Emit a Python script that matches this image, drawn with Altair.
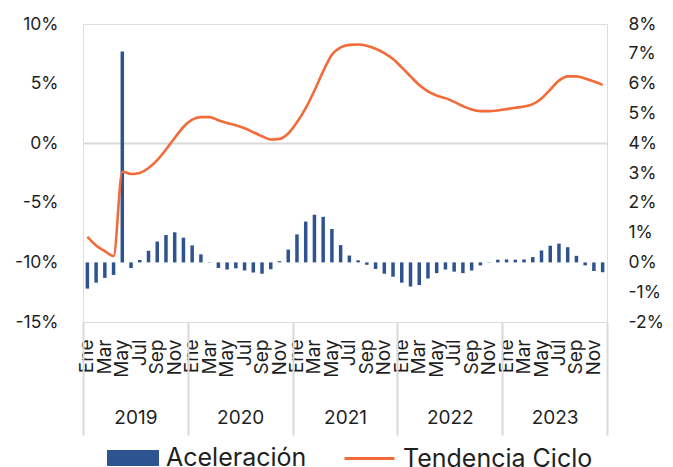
import altair as alt
import pandas as pd

# ---- data (values in %) ----
years = ["2019", "2020", "2021", "2022", "2023"]
month_names = ["Ene", "Feb", "Mar", "Abr", "May", "Jun", "Jul", "Ago", "Sep", "Oct", "Nov", "Dic"]

aceleracion = [
    -0.88, -0.68, -0.52, -0.42, 7.08, -0.19, 0.08, 0.39, 0.70, 0.92, 1.01, 0.83,
    0.57, 0.27, 0.01, -0.19, -0.24, -0.20, -0.27, -0.34, -0.38, -0.23, 0.04, 0.43,
    0.94, 1.37, 1.60, 1.53, 1.12, 0.58, 0.23, 0.07, -0.08, -0.22, -0.38, -0.48,
    -0.68, -0.81, -0.76, -0.54, -0.36, -0.24, -0.31, -0.36, -0.27, -0.10, 0.01, 0.09,
    0.10, 0.09, 0.10, 0.18, 0.40, 0.56, 0.63, 0.51, 0.22, -0.10, -0.29, -0.33,
]
tendencia = [
    -7.86, -8.58, -9.06, -9.47, -2.39, -2.58, -2.50, -2.08, -1.42, -0.53, 0.44, 1.36,
    1.97, 2.19, 2.19, 1.92, 1.69, 1.50, 1.25, 0.92, 0.58, 0.31, 0.36, 0.81,
    1.75, 2.94, 4.42, 6.03, 7.42, 8.03, 8.25, 8.28, 8.17, 7.92, 7.56, 7.06,
    6.36, 5.61, 4.88, 4.35, 4.00, 3.78, 3.47, 3.11, 2.83, 2.69, 2.69, 2.75,
    2.86, 2.97, 3.08, 3.28, 3.75, 4.50, 5.25, 5.61, 5.61, 5.42, 5.17, 4.89,
]
left_ticks = [-15, -10, -5, 0, 5, 10]
right_ticks = [-2, -1, 0, 1, 2, 3, 4, 5, 6, 7, 8]

keys = [f"{y}-{m:02d}" for y in years for m in range(1, 13)]
df = pd.DataFrame({
    "mes": keys,
    "acel": [v / 100 for v in aceleracion],
    "tend": [v / 100 for v in tendencia],
    "s1": "Aceleración",
    "s2": "Tendencia Ciclo",
})
years_df = pd.DataFrame({"anio": years})

FONT = "Inter"
TXT = "#1f1f1f"
BLUE = "#2E5391"
ORANGE = "#F26B38"
GRID = "#d9d9d9"

label_values = keys[::2]
names_js = "[" + ",".join(f"'{n}'" for n in month_names) + "]"
month_label_expr = f"{names_js}[toNumber(slice(datum.value, 5)) - 1]"
pct_expr = "replace(format(datum.value, '.0%'), '\u2212', '-')"

x_scale = alt.Scale(paddingInner=0, paddingOuter=0)
month_axis = alt.Axis(orient="bottom", values=label_values, labelExpr=month_label_expr,
                      labelAngle=-90, labelFontSize=19, labelFont=FONT, labelColor=TXT,
                      labelPadding=17, ticks=False, domain=False, labelOverlap=False,
                      labelBound=False, labelFlush=False, grid=False)

bars = alt.Chart(df).mark_bar(size=3.5).encode(
    x=alt.X("mes:O", scale=x_scale, title=None, axis=month_axis),
    y=alt.Y("acel:Q", title=None,
            scale=alt.Scale(domain=[-0.02, 0.08], nice=False, zero=False),
            axis=alt.Axis(orient="right", values=[v / 100 for v in right_ticks], labelExpr=pct_expr,
                          labelFontSize=17.5, labelFont=FONT, labelColor=TXT, labelAlign="left",
                          labelPadding=21, ticks=False, domain=False, grid=False)),
    color=alt.Color("s1:N", scale=alt.Scale(domain=["Aceleración"], range=[BLUE]),
                    legend=alt.Legend(orient="none", legendX=24, legendY=408, title=None,
                                      symbolType="M-1,-0.3077H1V0.3077H-1Z", symbolSize=2704,
                                      symbolStrokeWidth=0, symbolOpacity=1,
                                      labelFontSize=25, labelFont=FONT, labelColor=TXT,
                                      labelOffset=7, labelLimit=400)),
)

line = alt.Chart(df).mark_line(strokeWidth=2.6, interpolate="monotone").encode(
    x=alt.X("mes:O", scale=x_scale, title=None, axis=month_axis),
    y=alt.Y("tend:Q", title=None,
            scale=alt.Scale(domain=[-0.15, 0.10], nice=False, zero=False),
            axis=alt.Axis(orient="left", values=[v / 100 for v in left_ticks], labelExpr=pct_expr,
                          labelFontSize=17.5, labelFont=FONT, labelColor=TXT,
                          labelPadding=25, ticks=False, domain=False, grid=True,
                          gridColor=GRID, gridWidth=2,
                          gridOpacity=alt.condition("datum.value === 0", alt.value(1), alt.value(0)))),
    stroke=alt.Stroke("s2:N", scale=alt.Scale(domain=["Tendencia Ciclo"], range=[ORANGE]),
                      legend=alt.Legend(orient="none", legendX=260, legendY=408, title=None,
                                        symbolType="stroke", symbolSize=2500,
                                        symbolStrokeWidth=3, labelFontSize=25, labelFont=FONT,
                                        labelColor=TXT, labelOffset=7, labelLimit=400)),
)

inner = alt.layer(bars, line).resolve_scale(y="independent", color="independent", stroke="independent")

year_layer = alt.Chart(years_df).mark_point(opacity=0).encode(
    x=alt.X("anio:O", scale=alt.Scale(paddingInner=0, paddingOuter=0), title=None,
            axis=alt.Axis(orient="bottom", tickBand="extent", ticks=True, tickSize=113,
                          tickColor=GRID, tickWidth=2, domain=False, labelAngle=0,
                          labelFontSize=19, labelFont=FONT, labelColor=TXT,
                          labelBaseline="middle", labelPadding=-18)),
)

chart = alt.layer(inner, year_layer).resolve_scale(x="independent", y="independent").properties(
    width=524, height=298,
    padding={"left": 75, "top": 16, "right": 58, "bottom": 145},
    autosize=alt.AutoSizeParams(type="none"),
).configure_view(stroke=None).configure(background="white")

chart.save("out.html", embed_options={"renderer": "svg", "actions": False})
